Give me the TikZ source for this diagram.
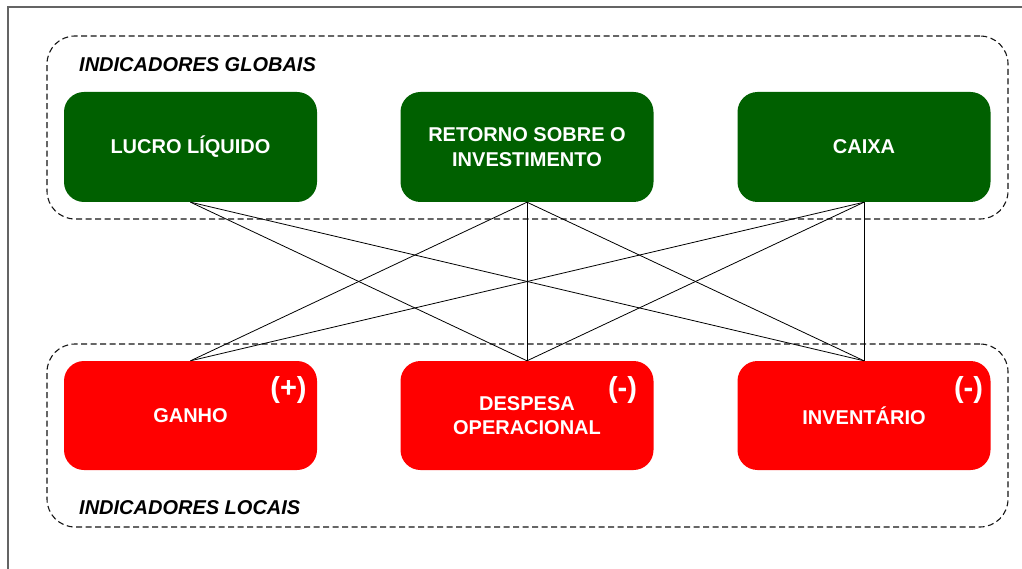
\documentclass[tikz,border=0pt]{standalone}
\usepackage{fontspec}
\setmainfont{Liberation Sans}
\definecolor{boxgreen}{RGB}{0,96,0}
\definecolor{boxred}{RGB}{255,0,0}
\definecolor{framegrey}{RGB}{100,100,100}
\definecolor{groupline}{RGB}{20,20,20}
\begin{document}
\begin{tikzpicture}[x=1pt,y=-1pt,
  indicator/.style={rounded corners=20pt, minimum width=253pt, minimum height=110pt,
    text=white, align=center, inner sep=0pt,
    font=\fontsize{20}{24.5}\selectfont\bfseries},
  globalbox/.style={indicator, fill=boxgreen},
  localbox/.style={indicator, fill=boxred},
  groupframe/.style={draw=groupline, line width=1.1pt, dash pattern=on 6pt off 3.5pt,
    rounded corners=28pt, minimum width=961pt, minimum height=183pt},
  grouptitle/.style={anchor=base west, inner sep=0pt,
    font=\fontsize{20}{24}\selectfont\bfseries\itshape},
  signmark/.style={anchor=base, inner sep=0pt, text=white,
    font=\fontsize{29}{30}\selectfont\bfseries},
  link/.style={draw=black, line width=0.8pt}]
\useasboundingbox (0,0) rectangle (1022,569);

% outer frame (only its top and left edges fall inside the page)
\draw[framegrey, line width=1.6pt] (8,580) -- (8,7) -- (1040,7);

% dashed groups
\node[groupframe] (globalgroup) at (527.5,127.5) {};
\node[groupframe] (localgroup) at (527.5,435.5) {};
\node[grouptitle] (globaltitle) at (79,72) {INDICADORES GLOBAIS};
\node[grouptitle] (localtitle) at (79,514) {INDICADORES LOCAIS};

% global indicators
\node[globalbox] (lucro) at (190.5,147) {LUCRO LÍQUIDO};
\node[globalbox] (retorno) at (527,147) {RETORNO SOBRE O\\INVESTIMENTO};
\node[globalbox] (caixa) at (864,147) {CAIXA};

% local indicators
\node[localbox, minimum height=109pt] (ganho) at (190.5,415.5) {GANHO};
\node[localbox, minimum height=109pt] (despesa) at (527,415.5) {DESPESA\\OPERACIONAL};
\node[localbox, minimum height=109pt] (inventario) at (864,415.5) {INVENTÁRIO};

% signs
\node[signmark] (ganhosign) at (288.5,397) {(+)};
\node[signmark] (despesasign) at (622.5,397) {(-)};
\node[signmark] (inventariosign) at (968.5,397) {(-)};

% relations between local and global indicators
\draw[link] (lucro.south) -- (despesa.north);
\draw[link] (lucro.south) -- (inventario.north);
\draw[link] (retorno.south) -- (ganho.north);
\draw[link] (retorno.south) -- (despesa.north);
\draw[link] (retorno.south) -- (inventario.north);
\draw[link] (caixa.south) -- (ganho.north);
\draw[link] (caixa.south) -- (despesa.north);
\draw[link] (caixa.south) -- (inventario.north);
\end{tikzpicture}
\end{document}
